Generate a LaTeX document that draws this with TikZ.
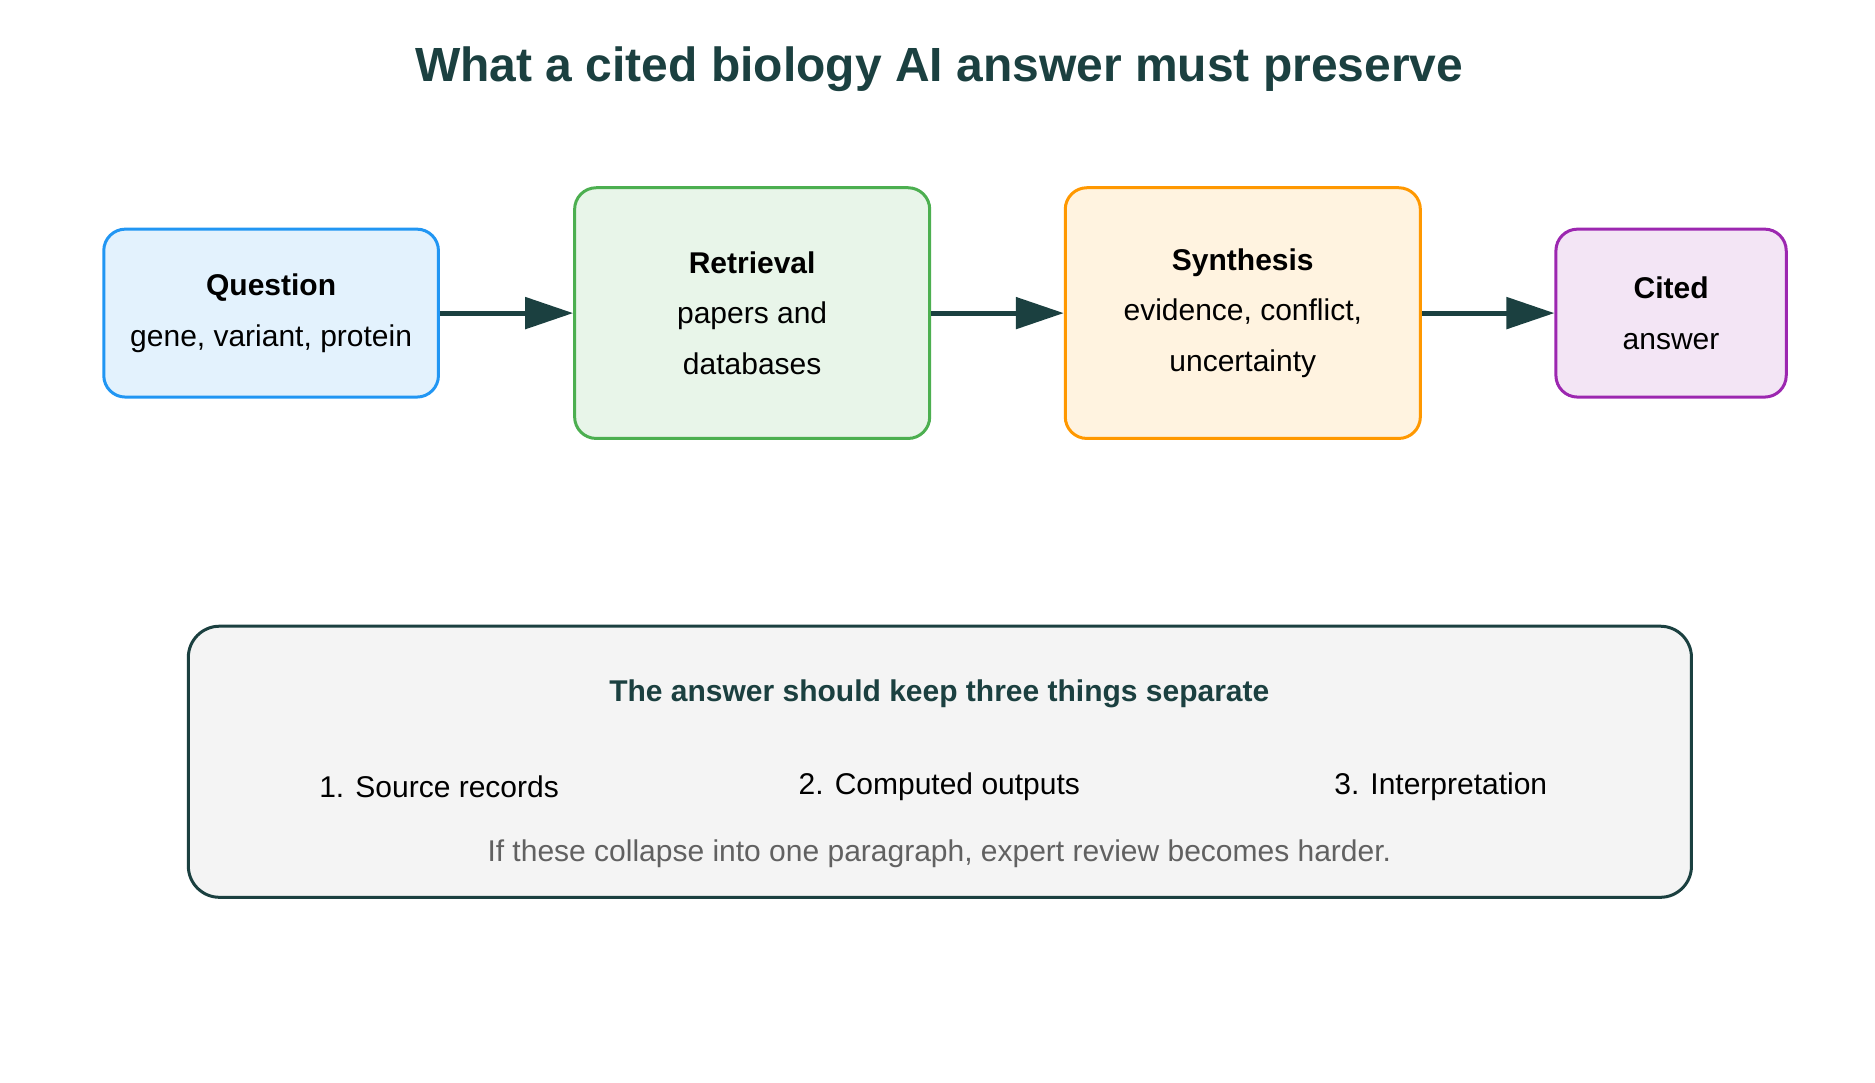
\documentclass[tikz,border=0pt]{standalone}
\usepackage{fontspec}
\setmainfont{Liberation Sans}
\usetikzlibrary{arrows.meta}
\definecolor{dk}{HTML}{1B4040}
\definecolor{bS}{HTML}{2196F3}\definecolor{bF}{HTML}{E3F2FD}
\definecolor{gS}{HTML}{4CAF50}\definecolor{gF}{HTML}{E8F5E9}
\definecolor{oS}{HTML}{FF9800}\definecolor{oF}{HTML}{FFF3E0}
\definecolor{pS}{HTML}{9C27B0}\definecolor{pF}{HTML}{F3E5F5}
\definecolor{gyF}{HTML}{F4F4F4}
\begin{document}
\begin{tikzpicture}[x=1pt,y=-1pt,
 box/.style={draw,line width=2.5pt,rounded corners=18pt,inner sep=0pt,align=center,font=\fontsize{25}{42}\selectfont},
 arr/.style={draw=dk,line width=4pt,-{Triangle[length=40pt,width=26pt]}},
 t/.style={font=\fontsize{25}{30}\selectfont}]
\useasboundingbox (0,0) rectangle (1563,902);
\node[font=\bfseries\fontsize{40}{48}\selectfont,text=dk] (title) at (783,58) {What a cited biology AI answer must preserve};
\node[box,draw=bS,fill=bF,minimum width=279pt,minimum height=140pt] (q) at (226,261) {\textbf{Question}\\gene, variant, protein};
\node[box,draw=gS,fill=gF,minimum width=296pt,minimum height=209pt] (r) at (627,261) {\textbf{Retrieval}\\papers and\\databases};
\node[box,draw=oS,fill=oF,minimum width=296pt,minimum height=209pt] (s) at (1036,261) {\textbf{Synthesis}\\evidence, conflict,\\uncertainty};
\node[box,draw=pS,fill=pF,minimum width=192pt,minimum height=140pt] (c) at (1393,261) {\textbf{Cited}\\answer};
\draw[arr] (q) -- (r);
\draw[arr] (r) -- (s);
\draw[arr] (s) -- (c);
\node[draw=dk,fill=gyF,line width=2.5pt,rounded corners=26pt,minimum width=1253pt,minimum height=226pt] (b) at (783.5,635) {};
\node[t,font=\bfseries\fontsize{25}{30}\selectfont,text=dk] (h) at (783,578) {The answer should keep three things separate};
\node[t] (i1) at (366,656) {1. Source records};
\node[t] (i2) at (783,656) {2. Computed outputs};
\node[t] (i3) at (1201,656) {3. Interpretation};
\node[t,text=black!62] (n) at (783,712) {If these collapse into one paragraph, expert review becomes harder.};
\end{tikzpicture}
\end{document}
